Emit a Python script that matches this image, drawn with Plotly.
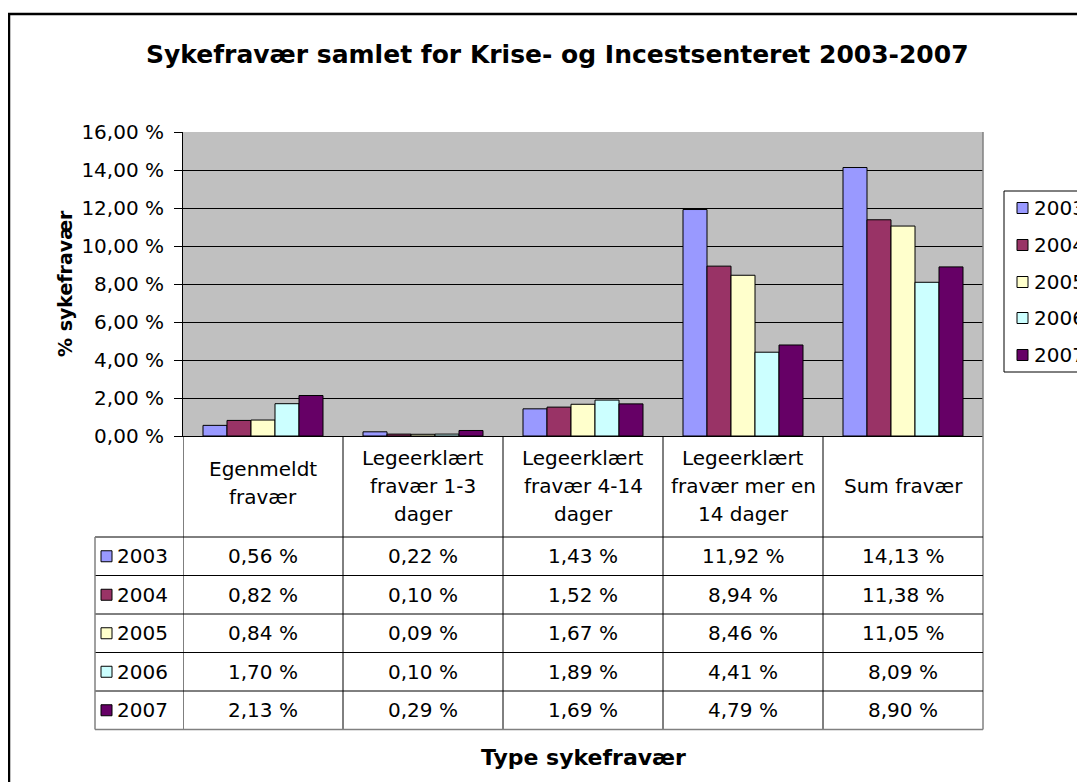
import plotly.graph_objects as go

# ---------------- data ----------------
categories = ["Egenmeldt fravær", "Legeerklært fravær 1-3 dager", "Legeerklært fravær 4-14 dager",
              "Legeerklært fravær mer en 14 dager", "Sum fravær"]
header_lines = [["Egenmeldt", "fravær"],
                ["Legeerklært", "fravær 1-3", "dager"],
                ["Legeerklært", "fravær 4-14", "dager"],
                ["Legeerklært", "fravær mer en", "14 dager"],
                ["Sum fravær"]]
years = ["2003", "2004", "2005", "2006", "2007"]
v2003 = [0.56, 0.22, 1.43, 11.92, 14.13]
v2004 = [0.82, 0.10, 1.52, 8.94, 11.38]
v2005 = [0.84, 0.09, 1.67, 8.46, 11.05]
v2006 = [1.70, 0.10, 1.89, 4.41, 8.09]
v2007 = [2.13, 0.29, 1.69, 4.79, 8.90]
series = [v2003, v2004, v2005, v2006, v2007]
colors = ["#9999FF", "#993366", "#FFFFCC", "#CCFFFF", "#660066"]

title = "Sykefravær samlet for Krise- og Incestsenteret 2003-2007"
y_title = "% sykefravær"
x_title = "Type sykefravær"

# ---------------- layout geometry (screen pixels) ----------------
W, H = 1085, 782
OFF = 8  # page body margin
L, R, T, B = 183, 983, 132, 436
FONT = "DejaVu Sans, Arial, sans-serif"
FS = 20


def px(x):
    return (x - L) / (R - L)


def py(y):
    return (B - y) / (B - T)


fig = go.Figure()
for name, vals, col in zip(years, series, colors):
    fig.add_trace(go.Bar(x=categories, y=vals, name=name, marker_color=col,
                         marker_line_color="black", marker_line_width=1, showlegend=False))

shapes = []
ann = []

# outer chart frame (cut off at right/bottom)
shapes.append(dict(type="rect", xref="paper", yref="paper", x0=px(9), x1=px(1110), y0=py(14), y1=py(810),
                   line=dict(color="black", width=2.5), layer="below"))
# plot area right border
shapes.append(dict(type="line", xref="paper", yref="paper", x0=1, x1=1, y0=py(T), y1=py(729.5),
                   line=dict(color="#808080", width=1.5)))

# data table
row_h = 38.5
table_top = 537
row_tops = [table_top + row_h * i for i in range(len(years) + 1)]
key_left = 95
for i in range(len(categories)):
    xc = i - 0.5
    shapes.append(dict(type="line", xref="x", yref="paper", x0=xc, x1=xc, y0=py(B), y1=py(row_tops[-1]),
                       line=dict(color="black", width=1)))
for j, yy in enumerate(row_tops):
    last = j == len(row_tops) - 1
    shapes.append(dict(type="line", xref="paper", yref="paper", x0=px(key_left), x1=1, y0=py(yy), y1=py(yy),
                       line=dict(color="#808080" if last else "black", width=1.5 if last else 1)))
shapes.append(dict(type="line", xref="paper", yref="paper", x0=px(key_left), x1=px(key_left),
                   y0=py(table_top), y1=py(row_tops[-1]), line=dict(color="#808080", width=1.5)))

# header text
line_gap = 28
head_center = 486
for cat, lines in zip(categories, header_lines):
    n = len(lines)
    c = head_center - (3 if n == 2 else 0)
    for k, t in enumerate(lines):
        yy = c + (k - (n - 1) / 2) * line_gap
        ann.append(dict(x=cat, xref="x", y=py(yy), yref="paper", text=t, showarrow=False,
                        xanchor="center", yanchor="middle", font=dict(size=FS, family=FONT, color="black")))

# table rows
for j, (name, vals, col) in enumerate(zip(years, series, colors)):
    yc = row_tops[j] + row_h / 2
    shapes.append(dict(type="rect", xref="paper", yref="paper", x0=px(101), x1=px(112),
                       y0=py(yc - 5.5), y1=py(yc + 5.5), fillcolor=col, line=dict(color="black", width=1)))
    ann.append(dict(x=px(115), xref="paper", y=py(yc), yref="paper", text=name, showarrow=False,
                    xanchor="left", yanchor="middle", font=dict(size=FS, family=FONT, color="black")))
    for cat, v in zip(categories, vals):
        txt = f"{v:.2f}".replace(".", ",") + " %"
        ann.append(dict(x=cat, xref="x", y=py(yc), yref="paper", text=txt, showarrow=False,
                        xanchor="center", yanchor="middle", font=dict(size=FS, family=FONT, color="black")))

# legend (cut off at right)
leg_top, leg_bot = 191, 372
shapes.append(dict(type="rect", xref="paper", yref="paper", x0=px(1004), x1=px(1120), y0=py(leg_top), y1=py(leg_bot),
                   line=dict(color="black", width=1), fillcolor="white"))
leg_y = [208, 245, 282, 318, 355]
for name, col, yc in zip(years, colors, leg_y):
    shapes.append(dict(type="rect", xref="paper", yref="paper", x0=px(1017), x1=px(1028),
                       y0=py(yc - 5.5), y1=py(yc + 5.5), fillcolor=col, line=dict(color="black", width=1)))
    ann.append(dict(x=px(1032), xref="paper", y=py(yc), yref="paper", text=name, showarrow=False,
                    xanchor="left", yanchor="middle", font=dict(size=FS, family=FONT, color="black")))

# titles
ann.append(dict(x=px(557), xref="paper", y=py(55), yref="paper", text=f"<b>{title}</b>", showarrow=False,
                xanchor="center", yanchor="middle", font=dict(size=25, family=FONT, color="black")))
ann.append(dict(x=px(65), xref="paper", y=py(284), yref="paper", text=f"<b>{y_title}</b>", showarrow=False,
                textangle=-90, xanchor="center", yanchor="middle", font=dict(size=19, family=FONT, color="black")))
ann.append(dict(x=0.5, xref="paper", y=py(757), yref="paper", text=f"<b>{x_title}</b>", showarrow=False,
                xanchor="center", yanchor="middle", font=dict(size=22, family=FONT, color="black")))

fig.update_layout(
    width=W, height=H,
    margin=dict(l=L - OFF, r=W - (R - OFF), t=T - OFF, b=H - (B - OFF), pad=0),
    paper_bgcolor="white", plot_bgcolor="#C0C0C0",
    barmode="group", bargap=0.25, bargroupgap=0,
    separators=", ",
    font=dict(family=FONT, size=FS, color="black"),
    shapes=shapes, annotations=ann,
    showlegend=False,
)
fig.update_xaxes(type="category", range=[-0.5, 4.5], showticklabels=False, ticks="",
                 showline=True, linecolor="black", linewidth=1, showgrid=False, zeroline=False, fixedrange=True)
fig.update_yaxes(range=[0, 16], dtick=2, tickformat=".2f", ticksuffix=" %", ticks="outside", ticklen=8,
                 tickcolor="black", showline=True, linecolor="black", linewidth=1, showgrid=True,
                 gridcolor="black", gridwidth=1, zeroline=False, tickfont=dict(size=FS, family=FONT),
                 ticklabelstandoff=6, fixedrange=True)

fig.write_html("out.html")
